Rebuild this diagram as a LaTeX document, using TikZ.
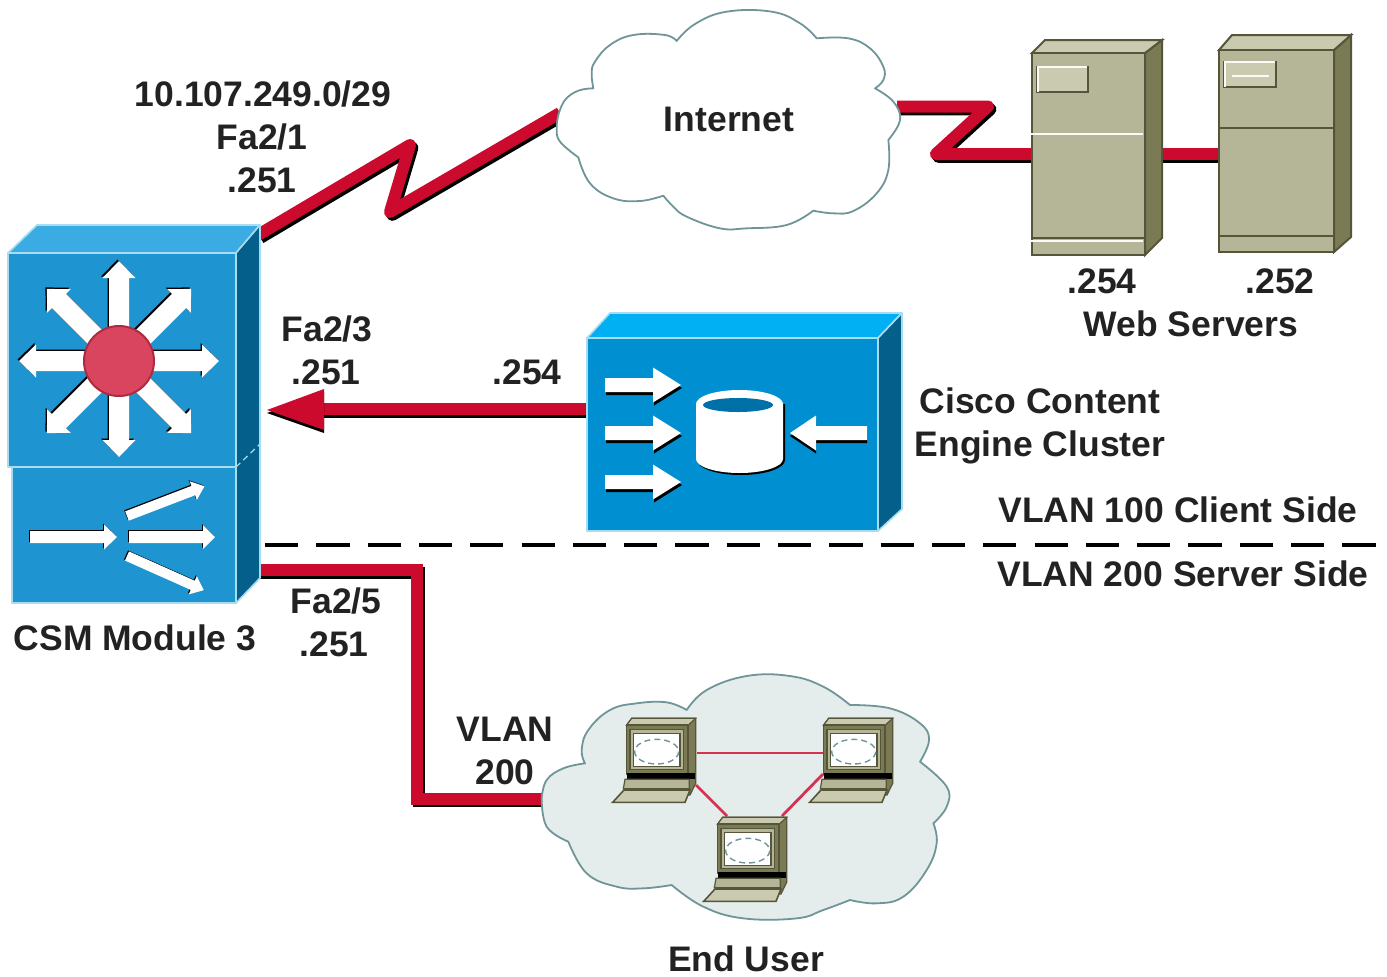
\documentclass[tikz,border=0pt]{standalone}
\usepackage{fontspec}
\setmainfont{Liberation Sans}
\usetikzlibrary{arrows.meta}
\definecolor{linkred}{HTML}{CC0A2E}
\definecolor{csmfront}{HTML}{1E94D0}
\definecolor{csmtop}{HTML}{3BABE3}
\definecolor{csmside}{HTML}{04608A}
\definecolor{csmedge}{HTML}{A8DCEE}
\definecolor{engfront}{HTML}{0090D2}
\definecolor{engtop}{HTML}{00B0F2}
\definecolor{enghole}{HTML}{0070A8}
\definecolor{hubred}{HTML}{D9455F}
\definecolor{hubedge}{HTML}{AE2A40}
\definecolor{srvfront}{HTML}{B5B598}
\definecolor{srvtop}{HTML}{CACAB0}
\definecolor{srvside}{HTML}{7A7A55}
\definecolor{srvedge}{HTML}{55553A}
\definecolor{cloudedge}{HTML}{6F9598}
\definecolor{cloudfill}{HTML}{E5EDEC}
\definecolor{lanred}{HTML}{D8304F}
\definecolor{txt}{HTML}{222222}
\tikzset{
  lbl/.style={font=\fontsize{17.75}{20}\selectfont\bfseries,text=txt,inner sep=0pt,anchor=base},
  redlink/.style={draw=linkred,line width=6pt,line join=round,
    preaction={draw=black,line width=6pt,line join=round,transform canvas={xshift=1.2pt,yshift=-1.4pt}}},
  redelbow/.style={draw=linkred,line width=6pt,line join=miter,
    preaction={draw=black,line width=6pt,line join=miter,transform canvas={xshift=1.2pt,yshift=-1.4pt}}},
  lanlink/.style={draw=lanred,line width=1.4pt},
  csmface/.style={draw=csmedge,line width=0.8pt,line join=round},
  engface/.style={draw=csmedge,line width=0.8pt,line join=round},
  srvface/.style={draw=srvedge,line width=1pt,line join=miter},
  cloudline/.style={draw=cloudedge,line width=0.9pt,line join=round},
}
% [shadow x,y]{tail x}{tail y}{angle}{length}{shaft width}{head width}{head length}
\newcommand{\fatarr}[8][-1.5,-1.5]{%
  \begin{scope}[shift={(#2,#3)},shift={(#1)}]
    \fill[black,rotate=#4] (0,{-#6/2}) -- ({#5-#8},{-#6/2}) -- ({#5-#8},{-#7/2}) -- (#5,0) -- ({#5-#8},{#7/2}) -- ({#5-#8},{#6/2}) -- (0,{#6/2}) -- cycle;
  \end{scope}
  \begin{scope}[shift={(#2,#3)}]
    \fill[white,rotate=#4] (0,{-#6/2}) -- ({#5-#8},{-#6/2}) -- ({#5-#8},{-#7/2}) -- (#5,0) -- ({#5-#8},{#7/2}) -- ({#5-#8},{#6/2}) -- (0,{#6/2}) -- cycle;
  \end{scope}}
% workstation drawn in the coordinates of the enlarged crop (1/3 px)
\newcommand{\workstation}[2]{%
  \begin{scope}[shift={(#1,#2)},scale=1/3]
    \fill[srvside,draw=srvedge,line width=.6pt] (290,165)--(305,145)--(497,145)--(497,340)--(480,375)--(475,375)--(475,165)--cycle;
    \fill[srvtop,draw=srvedge,line width=.6pt] (290,165)--(305,145)--(497,145)--(475,165)--cycle;
    \fill[srvside,draw=srvedge,line width=.6pt] (290,165) rectangle (472,312);
    \fill[srvfront,draw=srvedge,line width=.6pt] (300,178) rectangle (460,298);
    \fill[white,draw=srvedge,line width=.8pt] (310,190) rectangle (450,290);
    \draw[cloudedge,line width=.7pt,densely dashed] (380,245) ellipse (66 and 37);
    \fill[black] (290,310) rectangle (495,326);
    \fill[srvfront,draw=srvedge,line width=.6pt] (285,328)--(478,328)--(478,356)--(280,356)--cycle;
    \fill[srvtop,draw=srvedge,line width=.8pt] (282,360)--(480,360)--(465,397)--(248,397)--cycle;
  \end{scope}}
\begin{document}
\begin{tikzpicture}[x=0.5pt,y=-0.5pt]
\useasboundingbox (0,0) rectangle (1387,976);
\fill[white] (0,0) rectangle (1387,976);

% connection points
\coordinate (csmA) at (258,235);
\coordinate (zA1) at (410,145);
\coordinate (zA2) at (390,212);
\coordinate (inetW) at (560,113);
\coordinate (inetE) at (897,106.5);
\coordinate (zB1) at (988,106.5);
\coordinate (zB2) at (936,154);
\coordinate (srvOneW) at (1032,154);
\coordinate (srvOneE) at (1160,154);
\coordinate (srvTwoW) at (1220,154);
\coordinate (engW) at (588,409);
\coordinate (csmTip) at (267,410);
\coordinate (csmArrBase) at (322,409);
\coordinate (csmC) at (258,570);
\coordinate (elbowA) at (417,570);
\coordinate (elbowB) at (417,798.5);
\coordinate (userW) at (542,798.5);
\coordinate (dashW) at (265,545);
\coordinate (dashE) at (1376,545);
\coordinate (compAr) at (697,753);
\coordinate (compBl) at (823,753);
\coordinate (compAb) at (696,785);
\coordinate (compCa) at (727,816);
\coordinate (compBb) at (823,774);
\coordinate (compCb) at (782,816);

% links
\draw[redlink] (csmA) -- (zA1) -- (zA2) -- (inetW);
\draw[redlink] (inetE) -- (zB1) -- (zB2) -- (srvOneW);
\draw[redlink] (srvOneE) -- (srvTwoW);
\draw[redlink] (engW) -- (csmArrBase);
\fill[black] ([shift={(0,3)}]csmTip) -- ([shift={(0,3)}]324,389) -- ([shift={(0,3)}]324,430) -- cycle;
\fill[linkred] (csmTip) -- (324,389) -- (324,430) -- cycle;
\draw[redelbow] (csmC) -- (elbowA) -- (elbowB) -- (userW);
\draw[black,line width=1.6pt,dash pattern=on 16.6pt off 9.05pt] (dashW) -- (dashE);

% Internet cloud
\begin{scope}[shift={(540,0)},scale=1/3]
\path[fill=white,cloudline] (55,345)
  -- plot[smooth,tension=.7] coordinates {(55,345)(75,300)(115,272)(160,265)}
  -- plot[smooth,tension=.7] coordinates {(160,265)(155,220)(165,185)(210,135)(280,105)(375,105)(410,123)}
  -- plot[smooth,tension=.7] coordinates {(410,123)(465,72)(560,35)(695,35)(780,70)(830,115)}
  -- plot[smooth,tension=.7] coordinates {(830,115)(925,115)(990,145)(1030,200)(1030,240)(1005,265)}
  -- plot[smooth,tension=.7] coordinates {(1005,265)(1060,305)(1080,360)(1045,420)}
  -- plot[smooth,tension=.7] coordinates {(1045,420)(1045,510)(1010,580)(940,633)(880,640)(820,632)}
  -- plot[smooth,tension=.7] coordinates {(820,632)(740,675)(620,685)(540,685)(440,650)(400,620)(370,587)}
  -- plot[smooth,tension=.7] coordinates {(370,587)(300,603)(220,595)(150,550)(115,472)}
  -- plot[smooth,tension=.7] coordinates {(115,472)(60,425)(50,385)(55,345)} -- cycle;
\end{scope}

% End-user cloud
\begin{scope}[shift={(530,670)},scale=1/3]
\path[fill=cloudfill,cloudline] (35,385)
  -- plot[smooth,tension=.7] coordinates {(35,385)(50,330)(100,295)(165,280)}
  -- plot[smooth,tension=.7] coordinates {(165,280)(155,240)(175,180)(240,120)(320,100)(410,97)(470,120)}
  -- plot[smooth,tension=.7] coordinates {(470,120)(530,60)(650,18)(780,18)(880,50)(960,105)}
  -- plot[smooth,tension=.7] coordinates {(960,105)(1080,115)(1170,160)(1197,210)(1170,275)}
  -- plot[smooth,tension=.7] coordinates {(1170,275)(1250,350)(1250,410)(1210,460)}
  -- plot[smooth,tension=.7] coordinates {(1210,460)(1220,520)(1190,600)(1120,680)(1040,700)(960,690)}
  -- plot[smooth,tension=.7] coordinates {(960,690)(880,720)(800,745)(640,745)(520,710)(425,645)}
  -- plot[smooth,tension=.7] coordinates {(425,645)(340,655)(260,650)(170,610)(115,515)}
  -- plot[smooth,tension=.7] coordinates {(115,515)(50,470)(35,385)} -- cycle;
\end{scope}
\draw[lanlink] (compAr) -- (compBl);
\draw[lanlink] (compAb) -- (compCa);
\draw[lanlink] (compBb) -- (compCb);
\workstation{530}{670}
\workstation{727}{670}
\workstation{621}{769}

% CSM switch
\path[fill=csmtop,csmface] (8,253) -- (37,225) -- (260,225) -- (236,253) -- cycle;
\path[fill=csmside,csmface] (236,253) -- (260,225) -- (260,578) -- (236,603) -- cycle;
\path[fill=csmfront,csmface] (8,253) rectangle (236,467);
\path[fill=csmfront,csmface] (12,467) rectangle (236,603);
\draw[csmedge,line width=0.6pt,densely dashed] (236,467) -- (260,444);
\foreach \ang/\len in {0/100,45/102,90/100,135/102,180/100,225/102,270/96,315/102}{
  \fatarr{119}{361}{\ang}{\len}{20}{33}{17}
}
\path[fill=hubred,draw=hubedge,line width=1pt] (119,361) circle (35);
\fatarr[-1,-1]{30}{537}{0}{87}{12}{25}{13}
\fatarr[-1,-1]{129}{537}{0}{86}{12}{24}{12}
\fatarr[-1,-1]{127}{516}{21}{83}{10}{20}{12}
\fatarr[-1,-1]{127}{556}{-24}{84}{10}{20}{12}

% Content engine
\path[fill=engtop,engface] (587,338) -- (610,313) -- (902,313) -- (878,338) -- cycle;
\path[fill=csmside,engface] (878,338) -- (902,313) -- (902,509) -- (878,531) -- cycle;
\path[fill=engfront,engface] (587,338) rectangle (878,531);
\fatarr[1,3]{605}{385}{0}{76}{14}{35}{28}
\fatarr[1,3]{605}{433}{0}{76}{14}{35}{28}
\fatarr[1,3]{605}{482}{0}{76}{14}{35}{28}
\fatarr[0,3]{867}{433}{180}{77}{14}{35}{26}
\fill[black] (698,404) -- (785,404) -- (785,460) arc[start angle=0,end angle=180,x radius=44,y radius=15] -- cycle;
\fill[white] (696,404) arc[start angle=180,end angle=360,x radius=43.5,y radius=14] -- (783,459) arc[start angle=0,end angle=180,x radius=43.5,y radius=14] -- cycle;
\fill[enghole] (738,405) ellipse (35 and 7);

% Web servers
\path[fill=srvside,srvface] (1145,53) -- (1162,40) -- (1162,238) -- (1145,255) -- cycle;
\path[fill=srvtop,srvface] (1032,53) -- (1045,40) -- (1162,40) -- (1145,53) -- cycle;
\path[fill=srvfront,srvface] (1032,53) rectangle (1145,255);
\path[fill=srvtop,draw=srvedge,line width=.8pt] (1037,67) rectangle (1088,92);
\draw[white!90!srvtop,line width=.8pt] (1038,92) -- (1038,67) -- (1087,67);
\draw[white!90!srvtop,line width=.7pt] (1031,134) -- (1143,134);
\draw[srvedge,line width=.9pt] (1032,238) -- (1145,238);
\draw[white!90!srvtop,line width=.7pt] (1031,241) -- (1143,241);

\path[fill=srvside,srvface] (1334,50) -- (1351,35) -- (1351,237) -- (1334,252) -- cycle;
\path[fill=srvtop,srvface] (1219,50) -- (1232,35) -- (1351,35) -- (1334,50) -- cycle;
\path[fill=srvfront,srvface] (1219,50) rectangle (1334,252);
\path[fill=srvtop,draw=srvedge,line width=.8pt] (1224,62) rectangle (1276,87);
\draw[white!90!srvtop,line width=.8pt] (1225,87) -- (1225,62) -- (1275,62);
\draw[white!90!srvtop,line width=.7pt] (1232,76) -- (1269,76);
\draw[srvedge,line width=.9pt] (1219,128) -- (1334,128);
\draw[srvedge,line width=.9pt] (1219,236) -- (1334,236);

% labels (baseline positions)
\node[lbl] (tNet) at (263,106) {10.107.249.0/29};
\node[lbl] (tFaA) at (262,149) {Fa2/1};
\node[lbl] (tDotA) at (262,192) {.251};
\node[lbl] (tInet) at (729,131) {Internet};
\node[lbl] (tS1) at (1102,293) {.254};
\node[lbl] (tS2) at (1280,293) {.252};
\node[lbl] (tWeb) at (1191,336) {Web Servers};
\node[lbl] (tFaB) at (327,341) {Fa2/3};
\node[lbl] (tDotB) at (326,384) {.251};
\node[lbl] (tEng) at (527,384) {.254};
\node[lbl] (tCis) at (1040,413) {Cisco Content};
\node[lbl] (tClu) at (1040,456) {Engine Cluster};
\node[lbl] (tV100) at (1178,522) {VLAN 100 Client Side};
\node[lbl] (tV200) at (1183,586) {VLAN 200 Server Side};
\node[lbl] (tFaC) at (336,613) {Fa2/5};
\node[lbl] (tDotC) at (334,656) {.251};
\node[lbl] (tCsm) at (135,650) {CSM Module 3};
\node[lbl] (tVl) at (505,741) {VLAN};
\node[lbl] (tVn) at (505,784) {200};
\node[lbl] (tEnd) at (746,971) {End User};
\end{tikzpicture}
\end{document}
